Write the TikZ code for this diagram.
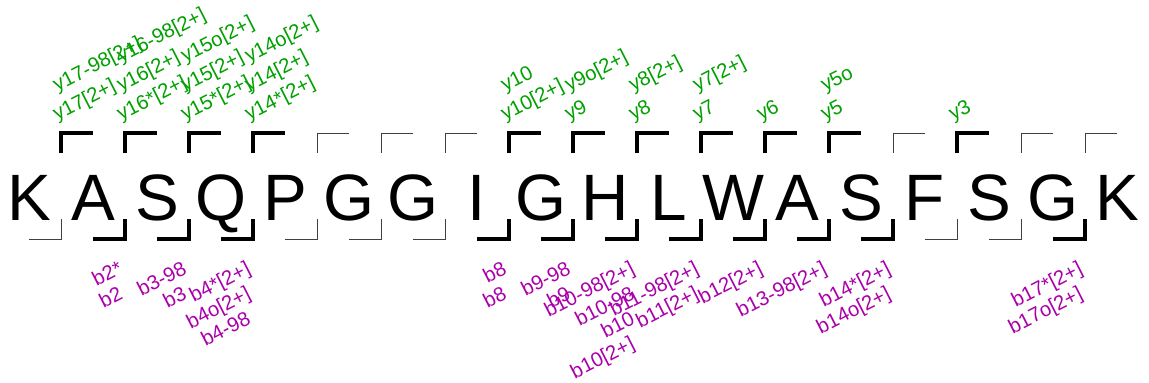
\documentclass[tikz,border=0pt]{standalone}
\usepackage{fontspec}
\setmainfont{Liberation Sans}
\definecolor{ygreen}{RGB}{0,160,0}
\definecolor{bmag}{RGB}{170,0,170}
\newcommand{\toplabels}[2]{%
  \foreach \t [count=\k from 0] in {#2} {%
    \node[ylab] (yl#1x\k) at ({61+64*#1-4}, {121-29*\k}) {\t};}}
\newcommand{\botlabels}[2]{%
  \foreach \t [count=\k from 0] in {#2} {%
    \node[blab] (bl#1x\k) at ({61+64*#1-1}, {273+25*\k}) {\t};}}
\begin{document}
\begin{tikzpicture}[x=1pt,y=-1pt,
  res/.style={font=\fontsize{65.6}{70}\selectfont, anchor=base, inner sep=0pt},
  ylab/.style={font=\fontsize{20.3}{23}\selectfont, text=ygreen, rotate=27, anchor=base west, inner sep=0pt},
  blab/.style={font=\fontsize{20.3}{23}\selectfont, text=bmag, rotate=27, anchor=base east, inner sep=0pt},
  thickbr/.style={line width=4.5pt, draw=black},
  thinbr/.style={line width=0.7pt, draw=black!75}]
\useasboundingbox (0,0) rectangle (1149,383);
% residues
\foreach \r [count=\i from 0] in {K,A,S,Q,P,G,G,I,G,H,L,W,A,S,F,S,G,K}
  \node[res] (r\i) at ({29+64*\i}, 220) {\r};
% gap coordinates
\foreach \g in {0,...,16}
  \coordinate (g\g) at ({61+64*\g}, 0);
% top brackets (y ions)
\foreach \g/\s in {0/thickbr,1/thickbr,2/thickbr,3/thickbr,4/thinbr,5/thinbr,6/thinbr,7/thickbr,8/thickbr,9/thickbr,10/thickbr,11/thickbr,12/thickbr,13/thinbr,14/thickbr,15/thinbr,16/thinbr}
  \draw[\s] ([yshift=-153pt]g\g) -- ([yshift=-133pt]g\g) -- ([xshift=32pt,yshift=-133pt]g\g);
% bottom brackets (b ions)
\foreach \g/\s in {0/thinbr,1/thickbr,2/thickbr,3/thickbr,4/thinbr,5/thinbr,6/thinbr,7/thickbr,8/thickbr,9/thickbr,10/thickbr,11/thickbr,12/thickbr,13/thickbr,14/thinbr,15/thinbr,16/thickbr}
  \draw[\s] ([yshift=-219pt]g\g) -- ([yshift=-239pt]g\g) -- ([xshift=-32pt,yshift=-239pt]g\g);
% y labels
\toplabels{0}{{y17[2+]},{y17-98[2+]}}
\toplabels{1}{{y16*[2+]},{y16[2+]},{y16-98[2+]}}
\toplabels{2}{{y15*[2+]},{y15[2+]},{y15o[2+]}}
\toplabels{3}{{y14*[2+]},{y14[2+]},{y14o[2+]}}
\toplabels{7}{{y10[2+]},{y10}}
\toplabels{8}{{y9},{y9o[2+]}}
\toplabels{9}{{y8},{y8[2+]}}
\toplabels{10}{{y7},{y7[2+]}}
\toplabels{11}{{y6}}
\toplabels{12}{{y5},{y5o}}
\toplabels{14}{{y3}}
% b labels
\botlabels{1}{{b2*},{b2}}
\botlabels{2}{{b3-98},{b3}}
\botlabels{3}{{b4*[2+]},{b4o[2+]},{b4-98}}
\botlabels{7}{{b8},{b8}}
\botlabels{8}{{b9-98},{b9}}
\botlabels{9}{{b10-98[2+]},{b10-98},{b10},{b10[2+]}}
\botlabels{10}{{b11-98[2+]},{b11[2+]}}
\botlabels{11}{{b12[2+]}}
\botlabels{12}{{b13-98[2+]}}
\botlabels{13}{{b14*[2+]},{b14o[2+]}}
\botlabels{16}{{b17*[2+]},{b17o[2+]}}
\end{tikzpicture}
\end{document}
